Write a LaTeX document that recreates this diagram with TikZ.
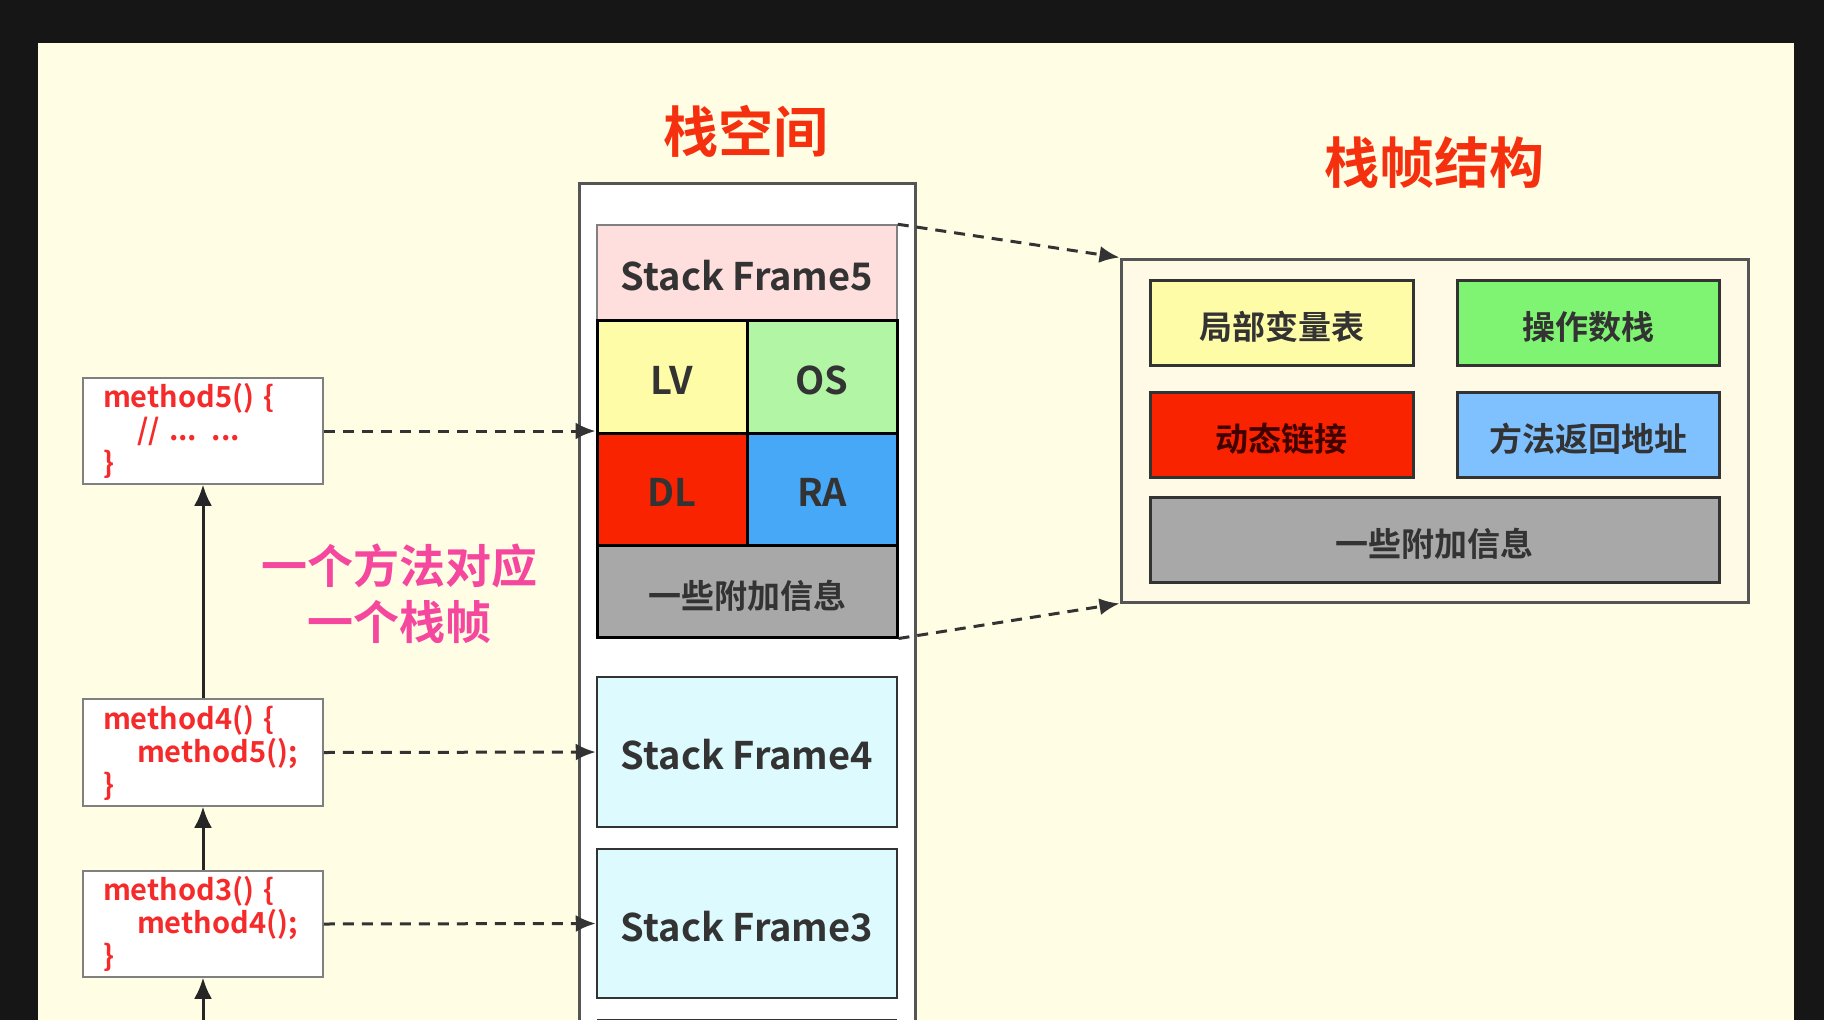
\documentclass[tikz,border=0pt]{standalone}
\usepackage{fontspec}
\setmainfont{Noto Sans CJK SC}[BoldFont={Noto Sans CJK SC Bold}]
\newfontfamily\cjk{Noto Sans CJK SC}[BoldFont={Noto Sans CJK SC Bold}]
\usetikzlibrary{arrows.meta}
\definecolor{bgdark}{HTML}{161616}
\definecolor{panel}{HTML}{FFFEE4}
\definecolor{titlered}{HTML}{F5300F}
\definecolor{pinktxt}{HTML}{F5479E}
\definecolor{codered}{HTML}{F52A2A}
\definecolor{pinkbox}{HTML}{FFDEDE}
\definecolor{lvcol}{HTML}{FFFCA8}
\definecolor{oscol}{HTML}{B2F5A5}
\definecolor{dlcol}{HTML}{FA2300}
\definecolor{racol}{HTML}{48A8F8}
\definecolor{graycol}{HTML}{A8A8A8}
\definecolor{sfcyan}{HTML}{DDFBFE}
\definecolor{osbright}{HTML}{7FF472}
\definecolor{rabright}{HTML}{7FC1FF}
\definecolor{rbfill}{HTML}{FFFAE6}
\definecolor{darktxt}{HTML}{333333}
\definecolor{framegray}{HTML}{555555}
\tikzset{
  cell/.style={draw=black, line width=3pt, inner sep=0pt, text=darktxt,
    text height=35pt, text depth=0pt,
    font=\fontsize{38}{42}\selectfont\bfseries},
  cjkcell/.style={draw=darktxt, line width=3pt, inner sep=0pt, text=darktxt,
    text height=34pt, text depth=0pt,
    font=\fontsize{33}{38}\selectfont\cjk\bfseries},
  sfbox/.style={draw=darktxt, line width=2.5pt, fill=sfcyan, inner sep=0pt,
    text height=35pt, text depth=0pt,
    minimum width=300pt, text=darktxt, font=\fontsize{38}{42}\selectfont\bfseries},
  methodbox/.style={draw=gray, line width=1.5pt, fill=white, inner xsep=20pt, inner ysep=0pt,
    minimum width=240pt, text width=200pt, align=left, text=codered,
    font=\fontsize{29}{33}\selectfont\bfseries},
  callarrow/.style={line width=3pt, draw=black!85, -{Latex[length=21pt,width=18pt]}},
  dasharrow/.style={line width=3pt, draw=black!80, dash pattern=on 11pt off 8pt,
    -{Latex[length=20pt,width=17pt]}},
  titletxt/.style={text=titlered, font=\fontsize{55}{60}\selectfont\cjk\bfseries},
}
\begin{document}
\begin{tikzpicture}[x=1pt,y=-1pt]
\useasboundingbox (0,0) rectangle (1824,1020);
\fill[bgdark] (0,0) rectangle (1824,1020);
\fill[panel] (38,43) rectangle (1794,1020);

% titles
\node[titletxt] (t1) at (746,131) {栈空间};
\node[titletxt] (t2) at (1434,163) {栈帧结构};

% stack space outer box
\fill[white] (579,183) rectangle (915,1020);
\draw[framegray, line width=3pt] (579,1020) -- (579,183) -- (915,183) -- (915,1020);

% stack frame 5
\node[draw=gray, line width=1.5pt, fill=pinkbox, inner sep=0pt, minimum width=300pt,
  minimum height=95pt, text=darktxt, text height=35pt, text depth=0pt,
  font=\fontsize{38}{42}\selectfont\bfseries]
  (sf5) at (747,272.5) {Stack Frame5};
\node[cell, fill=lvcol, minimum width=150pt, minimum height=113pt] (lv) at (672,376.5) {LV};
\node[cell, fill=oscol, minimum width=150pt, minimum height=113pt] (os) at (822,376.5) {OS};
\node[cell, fill=dlcol, minimum width=150pt, minimum height=112pt] (dl) at (672,489) {DL};
\node[cell, fill=racol, minimum width=150pt, minimum height=112pt] (ra) at (822,489) {RA};
\node[cjkcell, draw=black, fill=graycol, minimum width=300pt, minimum height=92pt] (info) at (747,591) {一些附加信息};

% other frames
\node[sfbox, minimum height=150pt] (sf4) at (747,752) {Stack Frame4};
\node[sfbox, minimum height=149pt] (sf3) at (747,923.5) {Stack Frame3};
\draw[darktxt, line width=2pt] (597,1019.5) -- (897,1019.5);

% method boxes
\node[methodbox, minimum height=106pt] (m5) at (203,431)
  {method5() \{\\\hspace*{34pt}// ... ...\\\}};
\node[methodbox, minimum height=107pt] (m4) at (203,752.5)
  {method4() \{\\\hspace*{34pt}method5();\\\}};
\node[methodbox, minimum height=106pt] (m3) at (203,924)
  {method3() \{\\\hspace*{34pt}method4();\\\}};
\coordinate (mbelow) at (203,1020);

\draw[callarrow] (m4.north) -- (m5.south);
\draw[callarrow] (m3.north) -- (m4.south);
\draw[callarrow] (mbelow) -- (m3.south);

% pink explanation
\node[text=pinktxt, font=\fontsize{46}{56}\selectfont\cjk\bfseries, align=center]
  (note) at (399,594) {一个方法对应\\一个栈帧};

% method -> frame
\draw[dasharrow] (m5.east) -- (m5.east -| lv.west);
\draw[dasharrow] (m4.east) -- (sf4.west);
\draw[dasharrow] (m3.east) -- (sf3.west);

% right structure box
\node[draw=framegray, line width=3pt, fill=rbfill, minimum width=627pt, minimum height=343pt,
  inner sep=0pt] (rb) at (1434.5,430.5) {};
\node[cjkcell, fill=lvcol, minimum width=263pt, minimum height=85pt] (lvt) at (1281.5,322.5) {局部变量表};
\node[cjkcell, fill=osbright, minimum width=262pt, minimum height=85pt] (ost) at (1588,322.5) {操作数栈};
\node[cjkcell, fill=dlcol, minimum width=263pt, minimum height=85pt, text=black!75!red] (dlt) at (1281.5,434.5) {动态链接};
\node[cjkcell, fill=rabright, minimum width=262pt, minimum height=85pt] (rat) at (1588,434.5) {方法返回地址};
\node[cjkcell, fill=graycol, minimum width=569pt, minimum height=85pt] (infot) at (1434.5,539.5) {一些附加信息};

\draw[dasharrow] (sf5.north east) -- (rb.north west);
\draw[dasharrow] (info.south east) -- (rb.south west);
\end{tikzpicture}
\end{document}
